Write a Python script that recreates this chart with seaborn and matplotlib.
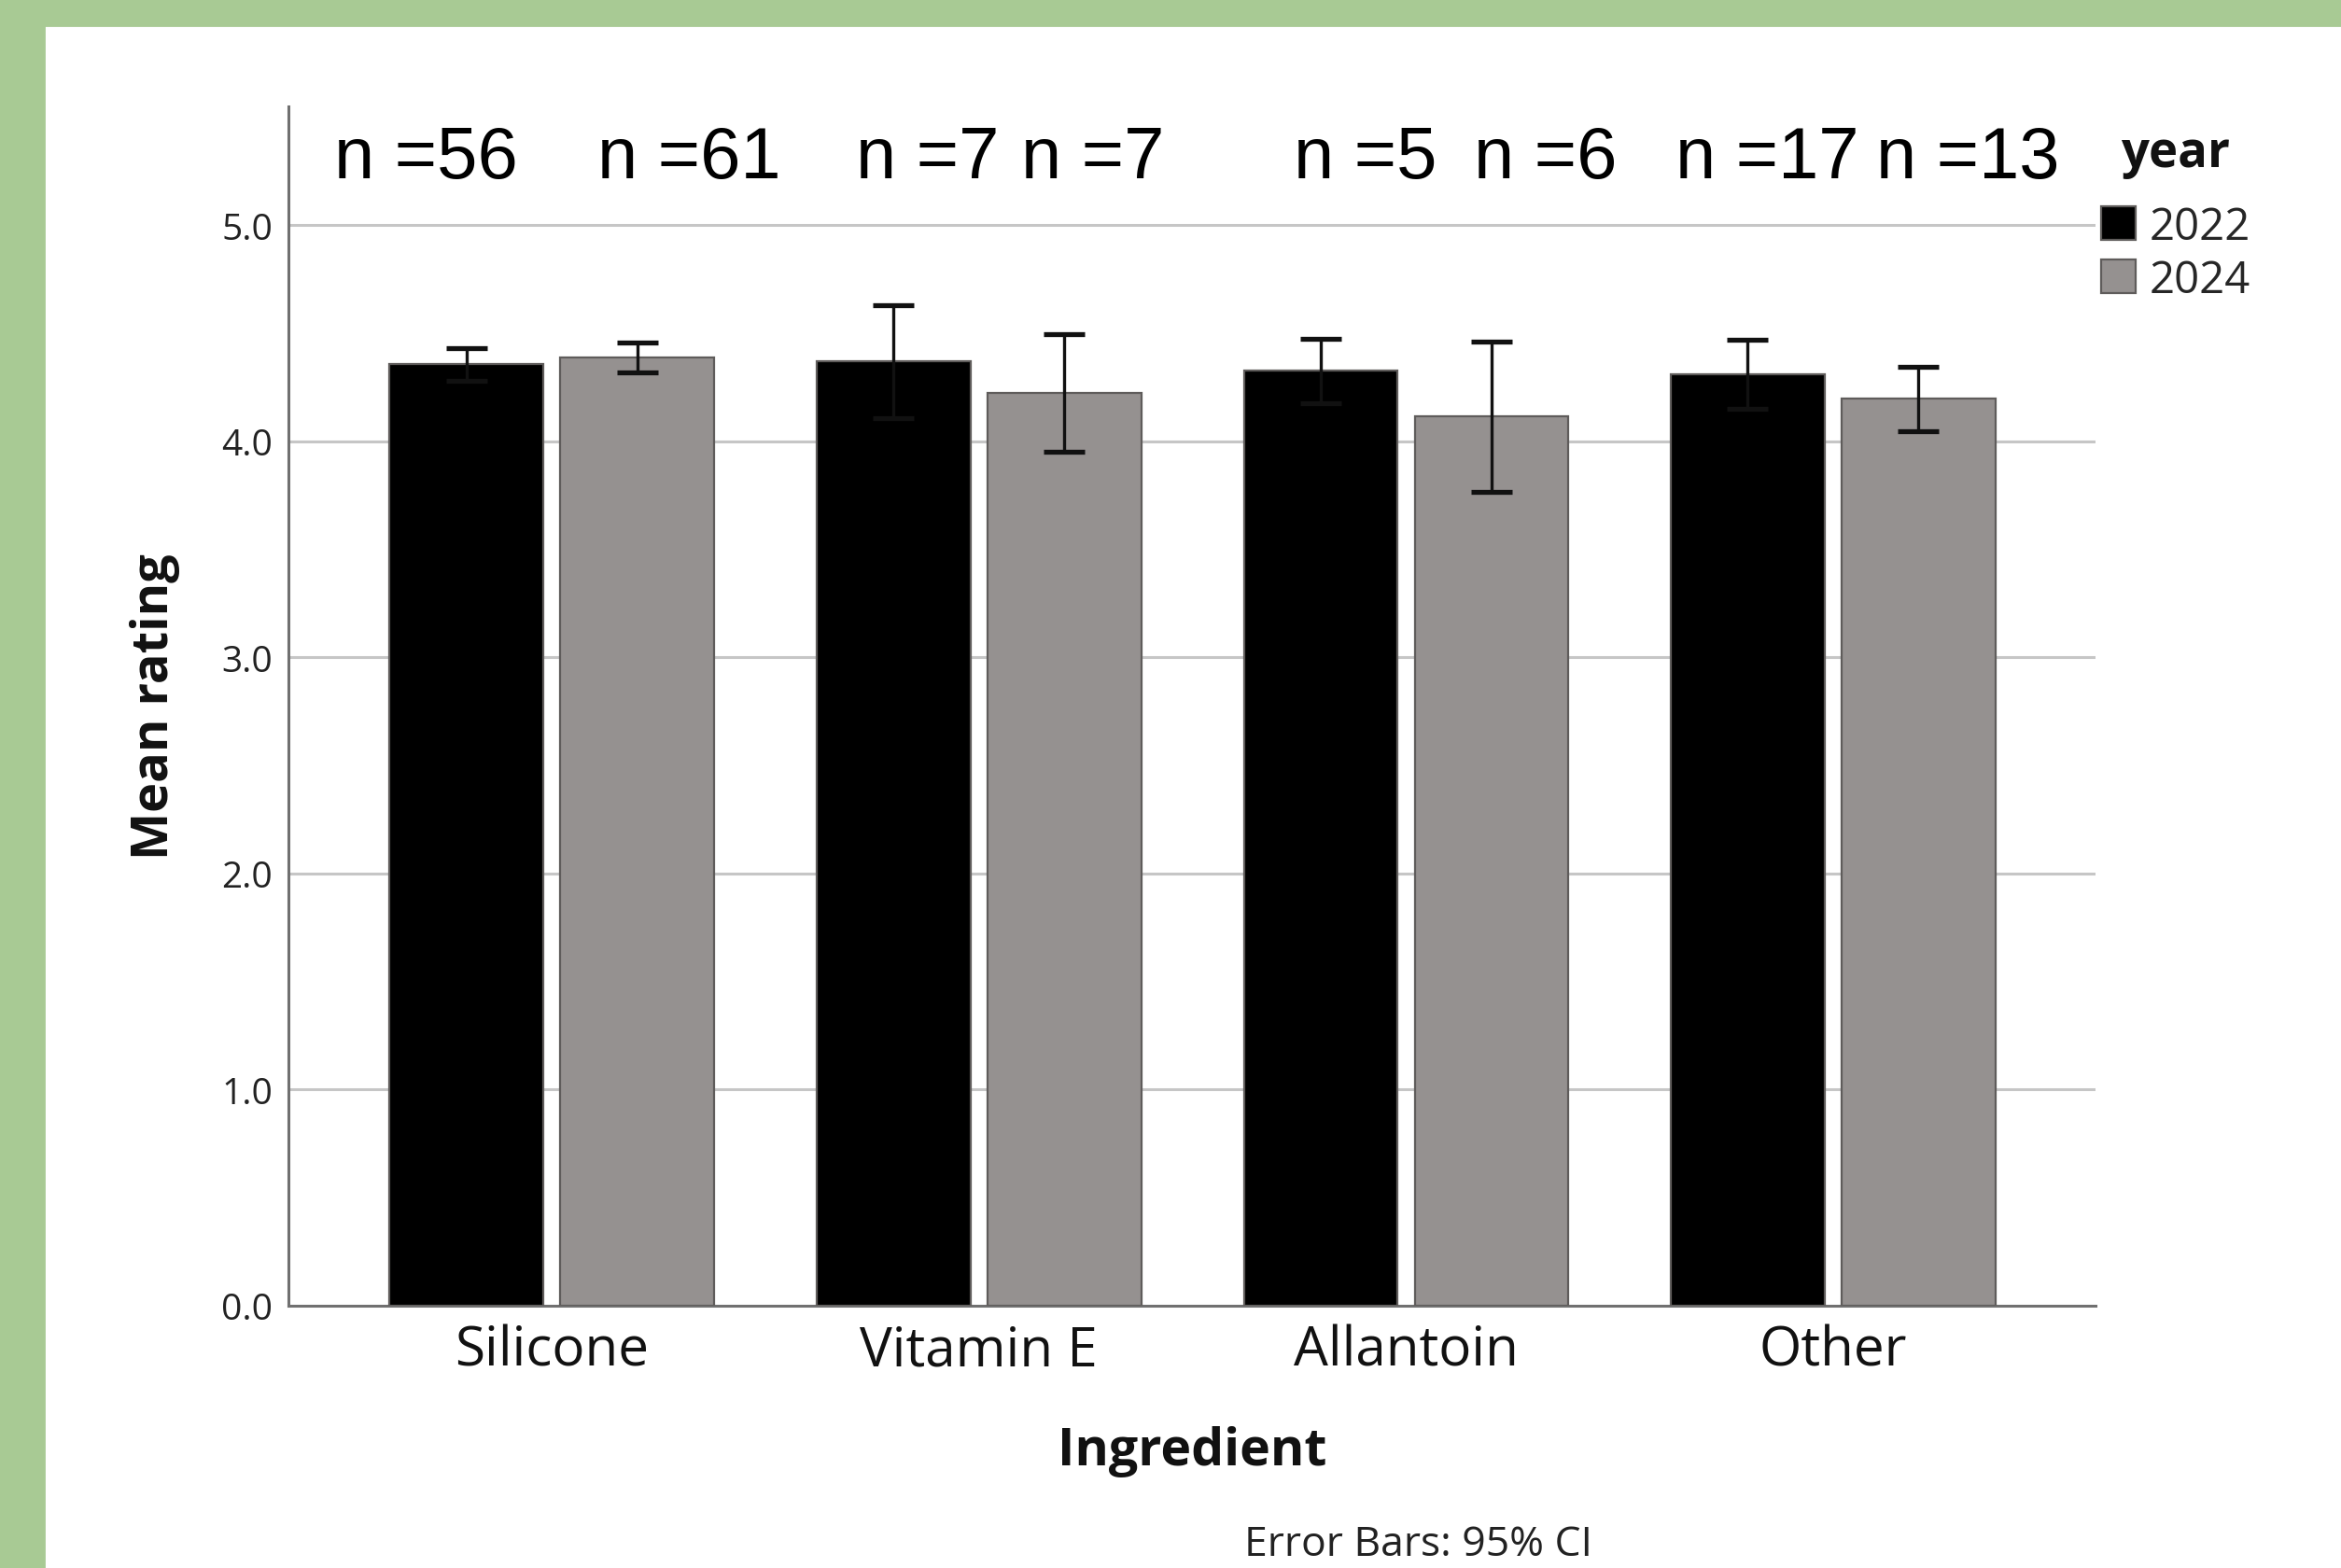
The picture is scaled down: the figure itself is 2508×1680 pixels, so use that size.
import numpy as np
import pandas as pd
import matplotlib
matplotlib.use("Agg")
import matplotlib.pyplot as plt
import matplotlib.font_manager as fm
import seaborn as sns
from matplotlib.patches import Rectangle

# data
ingredients = ["Silicone", "Vitamin E", "Allantoin", "Other"]
years = ["2022", "2024"]
mean_2022 = [4.357, 4.369, 4.326, 4.310]
mean_2024 = [4.389, 4.225, 4.115, 4.197]
ci_low_2022 = [4.282, 4.108, 4.176, 4.152]
ci_high_2022 = [4.432, 4.630, 4.476, 4.468]
ci_low_2024 = [4.320, 3.952, 3.768, 4.048]
ci_high_2024 = [4.455, 4.497, 4.463, 4.347]
n_2022 = [56, 7, 5, 17]
n_2024 = [61, 7, 6, 13]

df = pd.DataFrame({
    "Ingredient": ingredients * 2,
    "year": ["2022"] * 4 + ["2024"] * 4,
    "mean": mean_2022 + mean_2024,
})

# pick a sans family that actually has a bold face installed
bold_fams = {f.name for f in fm.fontManager.ttflist
             if f.weight in (600, 700, "bold", "semibold")}
font = "DejaVu Sans"
for cand in ["Open Sans", "Noto Sans", "Lato"]:
    if cand in bold_fams:
        font = cand
        break

sns.set_style("white")
plt.rcParams["font.family"] = [font, "DejaVu Sans"]

fig = plt.figure(figsize=(12.54, 8.405), dpi=200, facecolor="white")
green = "#a8ca94"
fig.add_artist(Rectangle((0, 0), 47 / 2508, 1, transform=fig.transFigure,
                         color=green, zorder=-10))
fig.add_artist(Rectangle((0, 1 - 28 / 1681), 1, 28 / 1681, transform=fig.transFigure,
                         color=green, zorder=-10))

ax = fig.add_axes([0.1232, 0.1672, 0.7719, 0.7644])

sns.barplot(data=df, x="Ingredient", y="mean", hue="year", hue_order=years,
            order=ingredients, palette=["#000000", "#96918f"], gap=0.1,
            errorbar=None, edgecolor="#5f5c5b", linewidth=0.8, ax=ax, zorder=3)

# error bars (95% CI)
lows = [ci_low_2022, ci_low_2024]
highs = [ci_high_2022, ci_high_2024]
means = [mean_2022, mean_2024]
bar_conts = list(ax.containers)
centers = []
for i, cont in enumerate(bar_conts):
    xs = [p.get_x() + p.get_width() / 2 for p in cont.patches]
    centers.append(xs)
    m = np.array(means[i])
    yerr = [m - np.array(lows[i]), np.array(highs[i]) - m]
    ax.errorbar(xs, m, yerr=yerr, fmt="none", ecolor="#111111",
                elinewidth=1.2, capsize=8, capthick=1.9, zorder=4)

# n labels above the bars
n_nudge = [[-0.094, 0.080, 0.105, 0.045], [0.122, 0.066, 0.126, 0.115]]
ns = [n_2022, n_2024]
for i in range(2):
    for j in range(len(ingredients)):
        ax.text(centers[i][j] + n_nudge[i][j], 5.22, f"n ={ns[i][j]}",
                ha="center", va="baseline", fontsize=28,
                family="Liberation Sans", color="black")

ax.set_xlim(-0.617, 3.614)
ax.set_ylim(0, 5.55)
ax.set_yticks([0, 1, 2, 3, 4, 5])
ax.set_yticklabels([f"{v:.1f}" for v in [0, 1, 2, 3, 4, 5]])
ax.yaxis.grid(True, color="#c6c6c6", linewidth=1.1)
ax.set_axisbelow(True)
for s in ["top", "right"]:
    ax.spines[s].set_visible(False)
for s in ["left", "bottom"]:
    ax.spines[s].set_color("#707070")
    ax.spines[s].set_linewidth(1.1)
ax.tick_params(axis="y", length=0, pad=6, labelsize=14, labelcolor="#222222")
ax.tick_params(axis="x", length=0, pad=7, labelsize=21, labelcolor="#111111")

ax.set_xlabel("Ingredient", fontsize=20, fontweight="bold", color="#111111")
ax.xaxis.set_label_coords(0.5, -0.1)
ax.set_ylabel("Mean rating", fontsize=19.5, fontweight="bold", color="#111111")
ax.yaxis.set_label_coords(-0.06, 0.5)

leg = ax.legend(loc="upper left", bbox_to_anchor=(1.003, 0.918),
                frameon=False, fontsize=17, borderpad=0,
                handlelength=0.8, handleheight=0.8, handletextpad=0.3,
                labelspacing=0.2, borderaxespad=0)
ax.text(1.014, 0.961, "year", transform=ax.transAxes, ha="left", va="center",
        fontsize=19, fontweight="bold", color="#111111")

fig.text(0.606, 0.0149, "Error Bars: 95% CI", ha="center", va="center",
         fontsize=16, color="#222222")

fig.savefig("out.png", dpi=200, facecolor=fig.get_facecolor())
